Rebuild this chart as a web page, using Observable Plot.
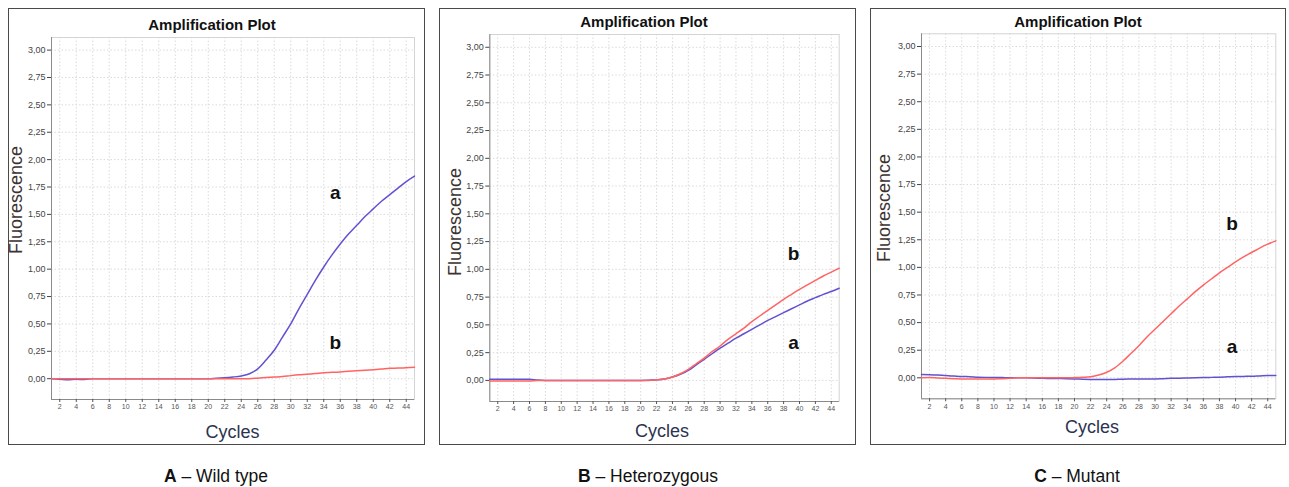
<!DOCTYPE html>
<html>
<head>
<meta charset="utf-8">
<script src="https://cdn.jsdelivr.net/npm/d3@7"></script>
<script src="https://cdn.jsdelivr.net/npm/@observablehq/plot@0.6"></script>
<style>
  body { margin: 0; background: #fff; font-family: "Liberation Sans", Arial, sans-serif; }
  #root { position: relative; width: 1289px; height: 487px; overflow: hidden; }
  .panel { position: absolute; box-sizing: border-box; border: 1px solid #4a4a4a; background: #fff; }
  .lbl { position: absolute; transform: translate(-50%, -50%); white-space: nowrap; }
  .title { font-weight: bold; font-size: 15px; color: #111; z-index: 3; }
  .xlab { font-size: 18px; color: #2c3350; }
  .ylab { font-size: 18px; color: #3c3232; transform: translate(-50%, -50%) rotate(-90deg); }
  .cap { font-size: 17.5px; color: #111; }
  .plotwrap { position: absolute; }
</style>
</head>
<body>
<div id="root"></div>
<script>
// ---- Data ----
const cycles = d3.range(1, 46); // 1..45
const xTicks = d3.range(2, 45, 2);
const yTicks = [0, 0.25, 0.5, 0.75, 1, 1.25, 1.5, 1.75, 2, 2.25, 2.5, 2.75, 3];

// Panel A – Wild type
const wildA = [0, -0.005, -0.01, -0.005, -0.008, 0, 0, 0, 0, 0, 0, 0, 0, 0, 0, 0, 0, 0, 0, 0,
  0.005, 0.008, 0.015, 0.025, 0.045, 0.09, 0.17, 0.26, 0.38, 0.5, 0.64, 0.77, 0.9, 1.02, 1.13,
  1.23, 1.32, 1.40, 1.48, 1.55, 1.62, 1.68, 1.74, 1.80, 1.85];
const wildB = [0, 0, 0, 0, 0, 0, 0, 0, 0, 0, 0, 0, 0, 0, 0, 0, 0, 0, 0, 0, 0, 0, 0, 0, 0,
  0.005, 0.01, 0.015, 0.02, 0.028, 0.035, 0.04, 0.047, 0.055, 0.058, 0.062, 0.068, 0.073, 0.077,
  0.082, 0.088, 0.095, 0.097, 0.1, 0.105];

// Panel B – Heterozygous
const hetA = [0.01, 0.01, 0.01, 0.01, 0.01, 0.01, 0.003, 0, 0, 0, 0, 0, 0, 0, 0, 0, 0, 0, 0, 0,
  0.002, 0.005, 0.012, 0.03, 0.055, 0.09, 0.14, 0.19, 0.24, 0.29, 0.335, 0.38, 0.42, 0.46, 0.5,
  0.54, 0.575, 0.61, 0.645, 0.68, 0.715, 0.745, 0.775, 0.8, 0.83];
const hetB = [-0.005, -0.005, -0.005, -0.005, -0.005, -0.005, 0, 0, 0, 0, 0, 0, 0, 0, 0, 0, 0, 0, 0, 0,
  0, 0.005, 0.012, 0.03, 0.06, 0.1, 0.15, 0.2, 0.26, 0.31, 0.37, 0.42, 0.47, 0.53, 0.58,
  0.63, 0.68, 0.73, 0.775, 0.82, 0.86, 0.9, 0.94, 0.975, 1.01];

// Panel C – Mutant
const mutA = [0.03, 0.028, 0.025, 0.02, 0.016, 0.012, 0.01, 0.006, 0.004, 0.003, 0.002, 0, 0, 0,
  -0.002, -0.005, -0.006, -0.007, -0.008, -0.01, -0.013, -0.015, -0.016, -0.016, -0.015, -0.012,
  -0.011, -0.01, -0.01, -0.01, -0.008, -0.005, -0.004, -0.002, 0, 0.002, 0.004, 0.006, 0.009,
  0.012, 0.013, 0.014, 0.017, 0.02, 0.02];
const mutB = [0, 0.002, -0.002, -0.005, -0.008, -0.01, -0.01, -0.01, -0.01, -0.01, -0.008, -0.005,
  0, 0, 0, 0, 0, 0, 0, 0.002, 0.005, 0.01, 0.025, 0.05, 0.09, 0.15, 0.22, 0.29, 0.37, 0.44,
  0.51, 0.58, 0.65, 0.715, 0.78, 0.84, 0.895, 0.95, 1.0, 1.05, 1.095, 1.135, 1.175, 1.21, 1.24];

// curve labels: [letter, cycle, fluorescence]
const labelsA = [["a", 35.4, 1.70], ["b", 35.4, 0.33]];
const labelsB = [["b", 39.25, 1.14], ["a", 39.25, 0.34]];
const labelsC = [["b", 39.56, 1.39], ["a", 39.56, 0.28]];

const titleText = "Amplification Plot";
const xLabel = "Cycles";
const yLabel = "Fluorescence";
const captions = [["A", "Wild type"], ["B", "Heterozygous"], ["C", "Mutant"]];

// ---- Layout ----
const panels = [
  {L: 8, W: 417, pl: 51, pr: 414, pt: 37, pb: 399, a: wildA, b: wildB, labels: labelsA,
   title: [212, 23.5], xl: [232.5, 432], yl: [16, 200], cap: [216, 476]},
  {L: 439, W: 417, pl: 489.3, pr: 838.7, pt: 34, pb: 401, a: hetA, b: hetB, labels: labelsB,
   title: [644, 21], xl: [662, 431], yl: [455, 222], cap: [648, 476]},
  {L: 870, W: 416, pl: 921, pr: 1275.3, pt: 33.3, pb: 398.3, a: mutA, b: mutB, labels: labelsC,
   title: [1078, 21], xl: [1092, 427], yl: [884, 208], cap: [1077, 476]}
];

const root = document.getElementById("root");
const fmt = d => d.toFixed(2).replace(".", ",");
const yDomain = [-0.19, 3.115];

function addLabel(cls, text, x, y, html) {
  const d = document.createElement("div");
  d.className = "lbl " + cls;
  if (html) d.innerHTML = html; else d.textContent = text;
  d.style.left = x + "px";
  d.style.top = y + "px";
  root.appendChild(d);
}

panels.forEach((p, idx) => {
  const top = 8, H = 437;
  const box = document.createElement("div");
  box.className = "panel";
  Object.assign(box.style, {left: p.L + "px", top: top + "px", width: p.W + "px", height: H + "px"});
  root.appendChild(box);

  const innerL = p.L + 1, innerT = top + 1, innerW = p.W - 2, innerH = H - 2;
  const rowsA = cycles.map((c, i) => ({cycle: c, value: p.a[i]}));
  const rowsB = cycles.map((c, i) => ({cycle: c, value: p.b[i]}));

  const chart = Plot.plot({
    width: innerW,
    height: innerH,
    marginLeft: p.pl - innerL,
    marginRight: innerL + innerW - p.pr,
    marginTop: p.pt - innerT,
    marginBottom: innerT + innerH - p.pb,
    style: {fontFamily: "'Liberation Sans', Arial, sans-serif", background: "transparent", overflow: "visible"},
    x: {domain: [1, 45], label: null},
    y: {domain: yDomain, label: null},
    marks: [
      Plot.gridX(xTicks, {stroke: "#dadada", strokeOpacity: 1, strokeDasharray: "1.5,2"}),
      Plot.gridY(yTicks, {stroke: "#dadada", strokeOpacity: 1, strokeDasharray: "1.5,2"}),
      Plot.frame({stroke: "#d4d4d4"}),
      Plot.ruleX([1], {stroke: "#8a8a8a"}),
      Plot.ruleY([yDomain[0]], {stroke: "#8a8a8a"}),
      Plot.axisX(xTicks, {tickSize: 3, tickPadding: 2, fontSize: 7, color: "#555", label: null}),
      Plot.axisY(yTicks, {tickSize: 4, tickPadding: 2, fontSize: 9, color: "#444", tickFormat: fmt, label: null}),
      Plot.line(rowsA, {x: "cycle", y: "value", stroke: "#6152d0", strokeWidth: 1.5, curve: "monotone-x"}),
      Plot.line(rowsB, {x: "cycle", y: "value", stroke: "#ff6464", strokeWidth: 1.5, curve: "monotone-x"}),
      Plot.text(p.labels, {x: d => d[1], y: d => d[2], text: d => d[0], fontSize: 19, fontWeight: "bold", fill: "#111"})
    ]
  });
  const wrap = document.createElement("div");
  wrap.className = "plotwrap";
  Object.assign(wrap.style, {left: innerL + "px", top: innerT + "px", width: innerW + "px", height: innerH + "px"});
  wrap.appendChild(chart);
  root.appendChild(wrap);

  addLabel("title", titleText, p.title[0], p.title[1]);
  addLabel("xlab", xLabel, p.xl[0], p.xl[1]);
  addLabel("ylab", yLabel, p.yl[0], p.yl[1]);
  const [letter, name] = captions[idx];
  addLabel("cap", null, p.cap[0], p.cap[1], "<b>" + letter + "</b> \u2013 " + name);
});
</script>
</body>
</html>
